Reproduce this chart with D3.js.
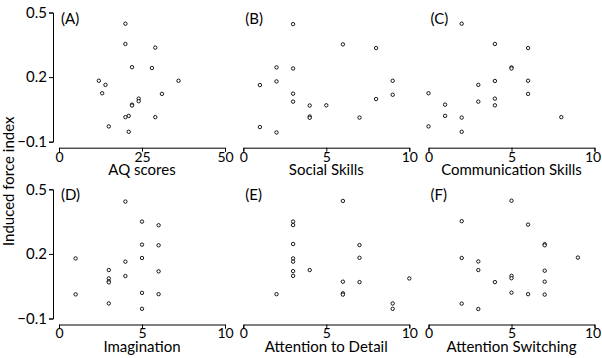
<!DOCTYPE html>
<html>
<head>
<meta charset="utf-8">
<script src="https://cdn.jsdelivr.net/npm/d3@7"></script>
<style>
  body { margin: 0; background: #fff; }
  svg text { font-family: Lato, "Open Sans", sans-serif; fill: #000; }
</style>
</head>
<body>
<div id="chart"></div>
<script>
// panel titles and x axis labels
const panelTags = ["(A)", "(B)", "(C)", "(D)", "(E)", "(F)"]
const xLabels = ["AQ scores", "Social Skills", "Communication Skills", "Imagination", "Attention to Detail", "Attention Switching"]
const xMaxes = [50, 10, 10, 10, 10, 10]
const yTicks = [-0.1, 0.2, 0.5]

// (A) AQ scores
const aqX = [20, 20, 29, 22, 28, 12, 14, 36, 13, 31, 24, 24, 22, 22, 21, 20, 29, 15, 21]
const aqY = [0.448, 0.354, 0.337, 0.246, 0.242, 0.183, 0.164, 0.183, 0.125, 0.122, 0.100, 0.088, 0.072, 0.068, 0.020, 0.014, 0.014, -0.029, -0.054]
// (B) Social Skills
const socialX = [3, 6, 8, 2, 3, 2, 1, 9, 3, 9, 8, 3, 4, 5, 4, 4, 7, 1, 2]
const socialY = [0.446, 0.352, 0.335, 0.245, 0.240, 0.180, 0.163, 0.183, 0.123, 0.118, 0.098, 0.086, 0.068, 0.069, 0.017, 0.011, 0.012, -0.032, -0.057]
// (C) Communication Skills
const commX = [2, 4, 6, 5, 5, 3, 4, 6, 0, 6, 3, 4, 4, 1, 1, 2, 8, 0, 2]
const commY = [0.448, 0.354, 0.335, 0.245, 0.240, 0.164, 0.182, 0.183, 0.125, 0.122, 0.086, 0.100, 0.069, 0.072, 0.020, 0.012, 0.014, -0.029, -0.054]
// (D) Imagination
const imagX = [4, 5, 6, 5, 6, 1, 5, 4, 3, 6, 4, 3, 3, 3, 1, 5, 6, 3, 5]
const imagY = [0.443, 0.350, 0.333, 0.243, 0.240, 0.179, 0.181, 0.164, 0.125, 0.119, 0.097, 0.086, 0.072, 0.068, 0.012, 0.019, 0.013, -0.030, -0.055]
// (E) Attention to Detail
const detailX = [6, 3, 3, 3, 7, 7, 3, 3, 4, 3, 3, 6, 7, 10, 2, 6, 6, 9, 9]
const detailY = [0.446, 0.350, 0.334, 0.246, 0.241, 0.182, 0.179, 0.164, 0.125, 0.120, 0.098, 0.071, 0.069, 0.086, 0.013, 0.017, 0.011, -0.030, -0.055]
// (F) Attention Switching
const switchX = [5, 2, 6, 7, 7, 2, 9, 3, 3, 7, 5, 5, 4, 7, 5, 6, 7, 2, 3]
const switchY = [0.447, 0.352, 0.336, 0.245, 0.240, 0.181, 0.183, 0.165, 0.125, 0.122, 0.098, 0.087, 0.069, 0.071, 0.020, 0.013, 0.011, -0.031, -0.056]

const panelX = [aqX, socialX, commX, imagX, detailX, switchX]
const panelY = [aqY, socialY, commY, imagY, detailY, switchY]

const width = 602
const height = 358
const colLeft = [59, 243.3, 428.5]
const colWidth = 166
const rowTop = [12.5, 189.3]
const rowHeight = 129.2
const axisGap = 6
const labelSize = "15px"
const tickSize = "14px"

const svg = d3.select("#chart")
  .append("svg")
  .attr("width", width)
  .attr("height", height)

svg.append("text")
  .attr("transform", "translate(14," + (rowTop[1] - 8) + ")rotate(-90)")
  .attr("text-anchor", "middle")
  .style("font-size", labelSize)
  .text("Induced force index")

panelTags.forEach((tag, i) => {
  const col = i % 3
  const row = Math.floor(i / 3)
  const x = d3.scaleLinear()
    .domain([0, xMaxes[i]])
    .range([colLeft[col], colLeft[col] + colWidth])
  const y = d3.scaleLinear()
    .domain([-0.1, 0.5])
    .range([rowTop[row] + rowHeight, rowTop[row]])
  const g = svg.append("g")
  const xAxisY = rowTop[row] + rowHeight + axisGap

  // x axis
  const xa = g.append("g")
    .attr("transform", "translate(0," + xAxisY + ")")
    .call(d3.axisBottom(x).tickValues([0, xMaxes[i] / 2, xMaxes[i]]).tickSize(4).tickPadding(0))
  xa.selectAll("text").style("font-size", tickSize)
  xa.selectAll("path, line").attr("stroke", "#000")
  // keep the last label of the right column inside the page
  if (col === 2) {
    xa.selectAll(".tick text").filter(d => d === xMaxes[i]).attr("dx", "-2px")
  }

  // y axis only on the left column
  if (col === 0) {
    const ya = g.append("g")
      .attr("transform", "translate(" + (colLeft[col] - 6) + ",0)")
      .call(d3.axisLeft(y).tickValues(yTicks).tickFormat(d3.format(".1f")).tickSize(4).tickPadding(2))
    ya.selectAll("text").style("font-size", labelSize)
    ya.selectAll("path, line").attr("stroke", "#000")
  }

  g.append("text")
    .attr("x", colLeft[col] + colWidth / 2)
    .attr("y", xAxisY + 27)
    .attr("text-anchor", "middle")
    .style("font-size", labelSize)
    .text(xLabels[i])

  g.append("text")
    .attr("x", colLeft[col] + 2)
    .attr("y", rowTop[row] + 11)
    .style("font-size", labelSize)
    .text(tag)

  // points
  g.selectAll("circle")
    .data(panelX[i].map((v, j) => ({x: v, y: panelY[i][j]})))
    .enter()
    .append("circle")
    .attr("cx", d => x(d.x))
    .attr("cy", d => y(d.y))
    .attr("r", 1.7)
    .attr("fill", "#fff")
    .attr("stroke", "#000")
    .attr("stroke-width", 0.9)
})
</script>
</body>
</html>
